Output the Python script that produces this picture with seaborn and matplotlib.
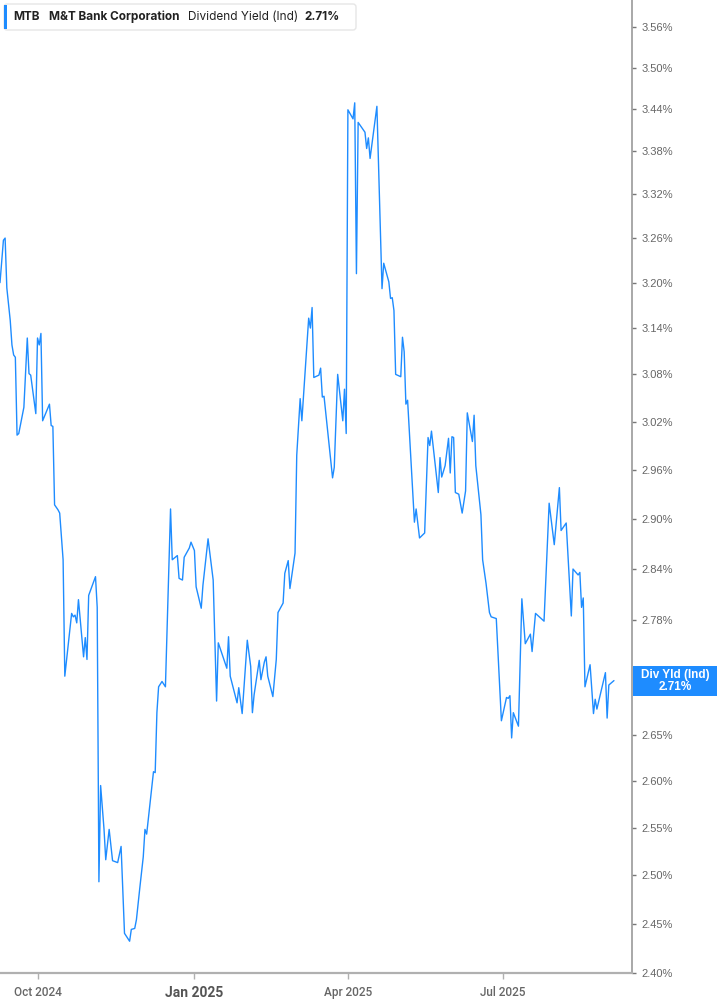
#!/usr/bin/env python3
"""
MTB dividend yield chart (indicated yield, Sep 2024 - Sep 2025)
"""

import matplotlib
matplotlib.use("Agg")
import matplotlib.pyplot as plt
import matplotlib.dates as mdates
from matplotlib.patches import Rectangle, FancyBboxPatch
import numpy as np
import pandas as pd
import seaborn as sns

# Calendar days from 2024-10-01 for each visible vertex of the line
DAY_OFFSETS = [
    -22, -20, -19, -18, -16, -15, -14, -13, -12, -11, -8, -6, -5, -4, -1, 0, 1, 2, 3, 7,
    8, 9, 10, 12, 13, 15, 16, 20, 21, 22, 23, 24, 27, 28, 29, 30, 34, 35, 36, 37,
    39, 40, 42, 44, 47, 49, 51, 54, 55, 57, 58, 60, 62, 63, 64, 68, 69, 70, 71, 73,
    75, 78, 79, 82, 83, 85, 86, 89, 90, 92, 93, 96, 97, 100, 103, 105, 106, 111, 112, 113,
    117, 118, 120, 123, 125, 126, 127, 130, 131, 133, 134, 135, 138, 140, 141, 144, 145, 147, 148, 151,
    152, 154, 155, 159, 160, 161, 162, 165, 166, 167, 168, 173, 174, 176, 179, 180, 181, 182, 185, 186,
    187, 188, 192, 193, 194, 195, 199, 202, 203, 206, 207, 208, 209, 210, 213, 214, 215, 216, 217, 221,
    222, 224, 227, 229, 230, 231, 235, 236, 237, 239, 241, 242, 243, 244, 245, 247, 249, 251, 252, 255,
    256, 257, 260, 261, 263, 265, 266, 269, 272, 275, 276, 277, 278, 279, 282, 284, 286, 289, 290, 292,
    297, 300, 303, 306, 307, 310, 313, 314, 317, 318, 319, 320, 321, 324, 326, 327, 328, 333, 334, 335,
    338,
]

# Dividend yield (%) at each vertex
YIELDS = [
    3.200, 3.257, 3.260, 3.193, 3.150, 3.118, 3.105, 3.102, 3.003, 3.005, 3.038, 3.127, 3.081, 3.079, 3.030, 3.127, 3.118, 3.133, 3.021, 3.042,
    3.015, 3.014, 2.917, 2.911, 2.907, 2.851, 2.716, 2.788, 2.784, 2.786, 2.777, 2.804, 2.738, 2.760, 2.735, 2.809, 2.831, 2.795, 2.493, 2.595,
    2.548, 2.516, 2.548, 2.515, 2.513, 2.530, 2.440, 2.432, 2.444, 2.445, 2.454, 2.487, 2.519, 2.548, 2.543, 2.610, 2.609, 2.675, 2.704, 2.710,
    2.704, 2.912, 2.851, 2.856, 2.829, 2.827, 2.854, 2.865, 2.872, 2.862, 2.819, 2.794, 2.821, 2.876, 2.827, 2.688, 2.754, 2.725, 2.761, 2.716,
    2.686, 2.703, 2.674, 2.757, 2.727, 2.675, 2.695, 2.734, 2.712, 2.732, 2.738, 2.716, 2.693, 2.735, 2.789, 2.800, 2.835, 2.850, 2.817, 2.859,
    2.978, 3.049, 3.021, 3.153, 3.140, 3.167, 3.076, 3.079, 3.088, 3.051, 3.052, 2.950, 2.963, 3.080, 3.021, 3.061, 3.005, 3.439, 3.426, 3.449,
    3.212, 3.421, 3.407, 3.384, 3.399, 3.370, 3.444, 3.192, 3.226, 3.201, 3.179, 3.180, 3.163, 3.080, 3.077, 3.128, 3.109, 3.042, 3.047, 2.896,
    2.912, 2.877, 2.883, 3.000, 2.990, 3.008, 2.932, 2.975, 2.951, 2.965, 2.999, 2.956, 3.001, 3.000, 2.932, 2.930, 2.907, 2.934, 3.031, 2.995,
    3.028, 2.965, 2.905, 2.851, 2.823, 2.789, 2.784, 2.782, 2.666, 2.692, 2.691, 2.694, 2.647, 2.675, 2.660, 2.805, 2.753, 2.764, 2.744, 2.788,
    2.779, 2.919, 2.869, 2.938, 2.886, 2.895, 2.785, 2.840, 2.833, 2.836, 2.795, 2.806, 2.704, 2.729, 2.674, 2.690, 2.679, 2.720, 2.669, 2.706,
    2.711,
]

BASE_DATE = "2024-10-01"
Y_TICKS = [2.40, 2.45, 2.50, 2.55, 2.60, 2.65, 2.78, 2.84, 2.90, 2.96,
           3.02, 3.08, 3.14, 3.20, 3.26, 3.32, 3.38, 3.44, 3.50, 3.56]
X_TICKS = ["2024-10-01", "2025-01-01", "2025-04-01", "2025-07-01"]
X_LABELS = ["Oct 2024", "Jan 2025", "Apr 2025", "Jul 2025"]
LAST_YIELD = 2.71

LINE_COLOR = "#1e8cff"
W, H = 717, 1005


def build_frame():
    dates = pd.Timestamp(BASE_DATE) + pd.to_timedelta(DAY_OFFSETS, unit="D")
    return pd.DataFrame({"date": dates, "yield": YIELDS})


def main():
    sns.set_theme(style="white")
    plt.rcParams["font.family"] = ["Liberation Sans", "DejaVu Sans"]

    df = build_frame()

    fig = plt.figure(figsize=(W / 100, H / 100), dpi=100)
    ax = fig.add_axes([0, 32 / H, 632 / W, 1 - 32 / H])

    sns.lineplot(data=df, x="date", y="yield", ax=ax, estimator=None, sort=False,
                 color=LINE_COLOR, linewidth=1.0)

    ax.set_yscale("log")
    ax.set_ylim(2.40, 3.60)
    ax.set_xlim(pd.Timestamp("2024-09-09"), pd.Timestamp("2025-09-14 14:00"))

    # y axis on the right
    ax.yaxis.tick_right()
    ax.yaxis.set_minor_locator(matplotlib.ticker.NullLocator())
    ax.set_yticks(Y_TICKS)
    ax.set_yticklabels([f"{v:.2f}%" for v in Y_TICKS])
    ax.tick_params(axis="y", which="major", right=True, left=False, length=3, width=1,
                   color="#777777", labelcolor="#666666", labelsize=8, pad=4)

    # x axis
    ax.set_xticks([pd.Timestamp(d) for d in X_TICKS])
    ax.set_xticklabels(X_LABELS)
    ax.tick_params(axis="x", bottom=True, length=4, width=1, color="#b0b0b0",
                   labelcolor="#666666", labelsize=8.5, pad=5)
    for lbl in ax.get_xticklabels():
        lbl.set_family(["Roboto", "DejaVu Sans"])
        if lbl.get_text() == "Jan 2025":
            lbl.set_fontweight("bold")
            lbl.set_fontsize(10)
            lbl.set_color("#555555")
        else:
            lbl.set_fontweight("medium")

    ax.set_xlabel("")
    ax.set_ylabel("")

    for side in ["top", "left"]:
        ax.spines[side].set_visible(False)
    ax.spines["right"].set_color("#9a9a9a")
    ax.spines["right"].set_linewidth(1.2)
    ax.spines["bottom"].set_color("#b0b0b0")
    ax.spines["bottom"].set_linewidth(1.6)

    # last value label on the right axis
    fig.canvas.draw()
    y_pix = ax.transData.transform((mdates.date2num(pd.Timestamp("2025-01-01")), LAST_YIELD))[1]
    box = Rectangle((633, y_pix - 15), W - 633, 30, transform=None,
                    facecolor=LINE_COLOR, edgecolor="none", zorder=10)
    fig.patches.append(box)
    fig.text(675 / W, (y_pix + 6) / H, "Div Yld (Ind)", color="white", fontsize=8.5,
             fontweight="bold", ha="center", va="center", zorder=11)
    fig.text(675 / W, (y_pix - 6) / H, f"{LAST_YIELD:.2f}%", color="white", fontsize=8.5,
             fontweight="bold", ha="center", va="center", zorder=11)

    # header legend box
    legend_box = FancyBboxPatch((4, H - 30), 352, 26, boxstyle="round,pad=0,rounding_size=3",
                                transform=None, facecolor="white", edgecolor="#e6e6e6",
                                linewidth=1, zorder=10)
    fig.patches.append(legend_box)
    bar = Rectangle((4, H - 29), 3, 24, transform=None, facecolor=LINE_COLOR,
                    edgecolor="none", zorder=11)
    fig.patches.append(bar)
    header = [("MTB", 13, "bold"), ("M&T Bank Corporation", 49, "bold"),
              ("Dividend Yield (Ind)", 188, "normal"), (f"{LAST_YIELD:.2f}%", 304, "bold")]
    for text, x0, weight in header:
        fig.text(x0 / W, (H - 16.5) / H, text, fontsize=8.5, fontweight=weight,
                 color="#222222", ha="left", va="center", zorder=12,
                 family=["Inter", "DejaVu Sans"])

    fig.savefig("out.png", dpi=100)
    plt.close(fig)


if __name__ == "__main__":
    main()
